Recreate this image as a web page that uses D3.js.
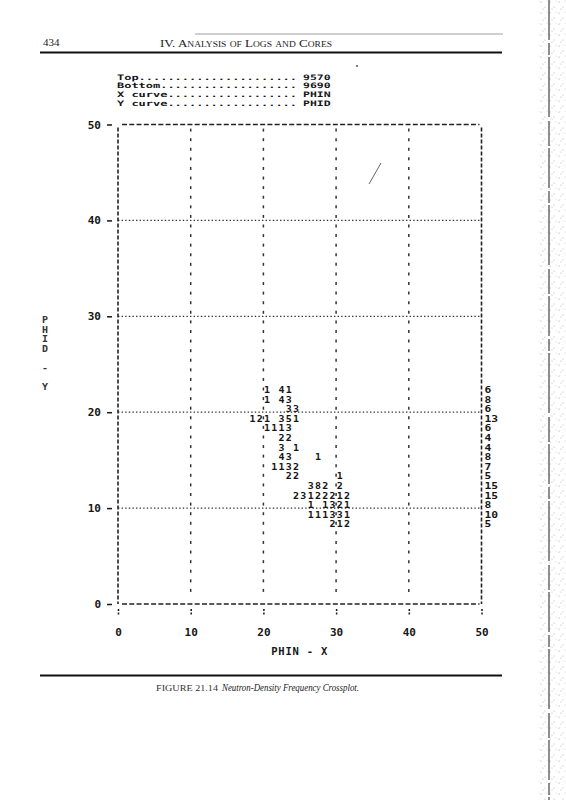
<!DOCTYPE html>
<html><head><meta charset="utf-8">
<script src="https://cdn.jsdelivr.net/npm/d3@7"></script>
<style>html,body{margin:0;padding:0;background:#fff;} svg{display:block;}</style>
</head><body>
<svg id="c" width="566" height="800"></svg>
<script>
// ---------- data ----------
const legendLabels = ["Top", "Bottom", "X curve", "Y curve"];
const legendValues = ["9570", "9690", "PHIN", "PHID"];
const xTicks = [0, 10, 20, 30, 40, 50];
const yTicks = [0, 10, 20, 30, 40, 50];
const gridX = [10, 20, 30, 40];
const gridY = [10, 20, 30, 40];
const xTitle = "PHIN - X";
const yTitle = "PHID - Y";
// frequency rows: Y value of the row, X of first character cell, digits (space = empty cell)
const rowY = [22, 21, 20, 19, 18, 17, 16, 15, 14, 13, 12, 11, 10, 9, 8];
const rowStartX = [20, 20, 23, 18, 20, 22, 22, 22, 21, 23, 26, 24, 26, 26, 29];
const rowDigits = ["1 41", "1 43", "33", "121 351", "1113", "22", "3 1", "43   1", "1132",
                   "22     1", "382 2", "23122212", "1 1321", "111331", "212"];
const rowTotals = [6, 8, 6, 13, 6, 4, 4, 8, 7, 5, 15, 15, 8, 10, 5];
const headerPage = "434";
const headerTitle = "IV. Analysis of Logs and Cores";
const captionLabel = "FIGURE 21.14";
const captionText = "Neutron-Density Frequency Crossplot.";

// ---------- setup ----------
const svg = d3.select("#c");
const mono = "'DejaVu Sans Mono','Liberation Mono',monospace";
const serif = "'Liberation Serif','DejaVu Serif',serif";
const ink = "#161616";
const charW = 6.0;      // printed glyph advance (stretched)
const smallFont = 8.2;  // keeps stacked printer rows from colliding

const x = d3.scaleLinear().domain([0, 50]).range([118, 481.5]);
const y = d3.scaleLinear().domain([0, 50]).range([604, 124.5]);

// ---------- scan artefacts (page edge) ----------
const defs = svg.append("defs");
const pat = defs.append("pattern").attr("id", "speck").attr("width", 9).attr("height", 11)
  .attr("patternUnits", "userSpaceOnUse");
[[1,2,0.6],[5,7,0.5],[7,1,0.4],[3,9,0.5]].forEach(p =>
  pat.append("circle").attr("cx", p[0]).attr("cy", p[1]).attr("r", p[2]).attr("fill", "#777"));
svg.append("rect").attr("x", 538).attr("y", 0).attr("width", 28).attr("height", 800)
  .attr("fill", "url(#speck)").attr("opacity", 0.7);
svg.append("line").attr("x1", 549).attr("x2", 549).attr("y1", 0).attr("y2", 800)
  .attr("stroke", "#444").attr("stroke-width", 1.2).attr("stroke-dasharray", "40,3,12,2,60,4,25,2");
svg.append("line").attr("x1", 369).attr("y1", 184).attr("x2", 381).attr("y2", 163)
  .attr("stroke", "#555").attr("stroke-width", 0.9);
svg.append("circle").attr("cx", 357).attr("cy", 66).attr("r", 1).attr("fill", "#555");

// ---------- header ----------
svg.append("line").attr("x1", 195).attr("x2", 503).attr("y1", 34).attr("y2", 34)
  .attr("stroke", "#888").attr("stroke-width", 0.8);
svg.append("text").attr("x", 43).attr("y", 46).text(headerPage)
  .attr("font-family", serif).attr("font-size", 11).attr("fill", "#222");
svg.append("text").attr("x", 160).attr("y", 47).text(headerTitle)
  .attr("font-family", serif).attr("font-size", 11).attr("font-variant", "small-caps")
  .attr("textLength", 172).attr("lengthAdjust", "spacingAndGlyphs").attr("fill", "#222");
svg.append("line").attr("x1", 40).attr("x2", 502).attr("y1", 52.5).attr("y2", 52.5)
  .attr("stroke", "#111").attr("stroke-width", 2.2);

// ---------- legend ----------
const leg = svg.append("g").attr("font-family", mono).attr("font-weight", "bold")
  .attr("font-size", 7.5).attr("fill", ink);
legendLabels.forEach((lab, i) => {
  const by = 79.5 + i * 8.8;
  const s = lab + ".".repeat(25 - lab.length);
  leg.append("text").attr("x", 117).attr("y", by).text(s)
    .attr("textLength", s.length * 7.2).attr("lengthAdjust", "spacingAndGlyphs");
  leg.append("text").attr("x", 303).attr("y", by).text(legendValues[i])
    .attr("textLength", legendValues[i].length * 7.2 - 1.2).attr("lengthAdjust", "spacingAndGlyphs");
});

// ---------- frame & grid ----------
const frame = svg.append("g").attr("stroke", "#222").attr("fill", "none");
[50, 0].forEach(v => frame.append("line")
  .attr("x1", x(0) + 4).attr("x2", x(50) - 2).attr("y1", y(v)).attr("y2", y(v))
  .attr("stroke-width", 1.4).attr("stroke-dasharray", "5,2.27"));
[0, 50].forEach(v => frame.append("line")
  .attr("x1", x(v)).attr("x2", x(v)).attr("y1", y(50) + 3).attr("y2", y(0))
  .attr("stroke-width", 1.6).attr("stroke-dasharray", "4,2"));
gridY.forEach(v => frame.append("line")
  .attr("x1", x(0)).attr("x2", x(50)).attr("y1", y(v)).attr("y2", y(v))
  .attr("stroke-width", 1.3).attr("stroke-dasharray", "1.4,2.2").attr("stroke", "#333"));
const rows = d3.range(1, 50);
gridX.forEach(v => frame.selectAll(null).data(rows).join("line")
  .attr("x1", x(v)).attr("x2", x(v))
  .attr("y1", r => y(r) - 5.5).attr("y2", r => y(r) - 2.5)
  .attr("stroke-width", 1.5).attr("stroke", "#333"));

// ---------- axes ----------
const yAxis = svg.append("g").attr("transform", "translate(112,0)")
  .call(d3.axisLeft(y).tickValues(yTicks).tickSize(5).tickPadding(6));
yAxis.select(".domain").remove();
yAxis.selectAll("line").attr("stroke", ink).attr("stroke-width", 1.5);
yAxis.selectAll("text").attr("font-family", mono).attr("font-weight", "bold")
  .attr("font-size", 11).attr("fill", ink);

const xAxis = svg.append("g").attr("transform", "translate(0,609)")
  .call(d3.axisBottom(x).tickValues(xTicks).tickSize(6).tickPadding(13));
xAxis.select(".domain").remove();
xAxis.selectAll("line").attr("stroke", ink).attr("stroke-width", 1.5).attr("stroke-dasharray", "2,1.5");
xAxis.selectAll("text").attr("font-family", mono).attr("font-weight", "bold")
  .attr("font-size", 11).attr("fill", ink);

svg.append("text").attr("x", x(25)).attr("y", 655).attr("text-anchor", "middle")
  .attr("font-family", mono).attr("font-weight", "bold").attr("font-size", 10.5)
  .attr("letter-spacing", 0.8).attr("fill", ink).text(xTitle);

svg.append("g").selectAll("text").data(yTitle.split("")).join("text")
  .attr("x", 45).attr("y", (c, i) => 323 + i * 9.6).attr("text-anchor", "middle")
  .attr("font-family", mono).attr("font-weight", "bold").attr("font-size", smallFont)
  .attr("textLength", charW).attr("lengthAdjust", "spacingAndGlyphs")
  .attr("fill", "#333").text(c => c);

// ---------- frequency digits ----------
const cells = [];
rowY.forEach((ry, i) => {
  rowDigits[i].split("").forEach((ch, k) => {
    if (ch !== " ") cells.push({ x: rowStartX[i] + k, y: ry, n: ch });
  });
});
svg.append("g").selectAll("text").data(cells).join("text")
  .attr("x", d => x(d.x + 0.5)).attr("y", d => y(d.y))
  .attr("text-anchor", "middle")
  .attr("font-family", mono).attr("font-weight", "bold").attr("font-size", smallFont)
  .attr("textLength", charW).attr("lengthAdjust", "spacingAndGlyphs")
  .attr("fill", ink).text(d => d.n);

svg.append("g").selectAll("text").data(rowY).join("text")
  .attr("x", x(50) + 3).attr("y", d => y(d))
  .attr("font-family", mono).attr("font-weight", "bold").attr("font-size", smallFont)
  .attr("textLength", (d, i) => String(rowTotals[i]).length * (charW + 0.8))
  .attr("lengthAdjust", "spacingAndGlyphs")
  .attr("fill", ink).text((d, i) => rowTotals[i]);

// ---------- caption ----------
svg.append("line").attr("x1", 40).attr("x2", 502).attr("y1", 675.5).attr("y2", 675.5)
  .attr("stroke", "#111").attr("stroke-width", 2.2);
svg.append("text").attr("x", 156).attr("y", 691).text(captionLabel)
  .attr("font-family", serif).attr("font-size", 9).attr("textLength", 62)
  .attr("lengthAdjust", "spacingAndGlyphs").attr("fill", "#333");
svg.append("text").attr("x", 222).attr("y", 691).text(captionText)
  .attr("font-family", serif).attr("font-style", "italic").attr("font-size", 10.5)
  .attr("textLength", 137).attr("lengthAdjust", "spacingAndGlyphs").attr("fill", "#222");
</script>
</body></html>
